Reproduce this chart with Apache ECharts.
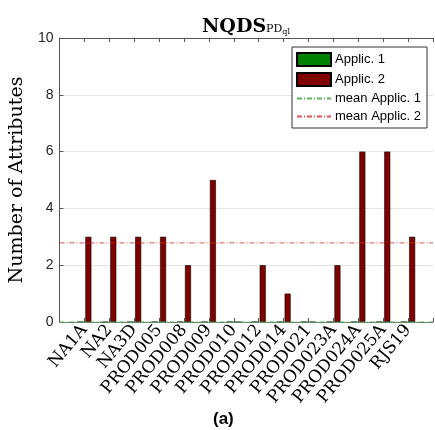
<!DOCTYPE html>
<html>
<head>
<meta charset="utf-8">
<script src="https://cdn.jsdelivr.net/npm/echarts@6/dist/echarts.min.js"></script>
<style>
  html, body { margin: 0; padding: 0; background: #fff; }
  #chart { width: 435px; height: 430px; }
</style>
</head>
<body>
<div id="chart"></div>
<script>
// Datasets, one value per category
const categories = ['NA1A', 'NA2', 'NA3D', 'PROD005', 'PROD008', 'PROD009', 'PROD010',
  'PROD012', 'PROD014', 'PROD021', 'PROD023A', 'PROD024A', 'PROD025A', 'RJS19'];
const applic1 = [0, 0, 0, 0, 0, 0, 0, 0, 0, 0, 0, 0, 0, 0];
const applic2 = [3, 3, 3, 3, 2, 5, 0, 2, 1, 0, 2, 6, 6, 3];
const yTicks = { min: 0, max: 10, step: 2 };

const mean = arr => arr.reduce((s, v) => s + v, 0) / arr.length;
const mean1 = mean(applic1);
const mean2 = mean(applic2);

// categories sit at positions 1..N on a 0..N+1 numeric axis
const xMax = categories.length + 1;
const toPoints = arr => arr.map((v, i) => [i + 1, v]);

const axisColor = '#555';
const serif = 'DejaVu Serif';
const sans = 'Liberation Sans';
const dashDot = [5, 2, 1, 2];

const chart = echarts.init(document.getElementById('chart'), null, { renderer: 'canvas' });

chart.setOption({
  animation: false,
  backgroundColor: '#fff',
  title: {
    text: '{a|NQDS}{b|PD}{c|ql}',
    left: 197,
    top: 10,
    textStyle: {
      rich: {
        a: { fontFamily: serif, fontWeight: 'bold', fontSize: 19, color: '#000', verticalAlign: 'bottom', lineHeight: 22 },
        b: { fontFamily: serif, fontWeight: 'normal', fontSize: 11, color: '#000', verticalAlign: 'bottom', lineHeight: 11, padding: [0, 0, 2, 0] },
        c: { fontFamily: serif, fontWeight: 'normal', fontSize: 8, color: '#000', verticalAlign: 'bottom', lineHeight: 8, padding: [0, 0, 1, 0] }
      }
    }
  },
  graphic: [{
    type: 'text',
    left: 213,
    top: 411,
    style: { text: '(a)', font: 'bold 17px "Liberation Sans"', fill: '#000' }
  }],
  legend: {
    orient: 'vertical',
    left: 292,
    top: 47,
    itemWidth: 34,
    itemHeight: 13,
    itemGap: 5,
    padding: [5, 6, 5, 4],
    borderColor: '#333',
    borderWidth: 1,
    borderRadius: 0,
    backgroundColor: '#fff',
    textStyle: { fontFamily: sans, fontSize: 13, color: '#000', padding: [0, 0, 0, -1] },
    data: [
      { name: 'Applic. 1', icon: 'rect' },
      { name: 'Applic. 2', icon: 'rect' },
      { name: 'mean Applic. 1', itemStyle: { opacity: 0 } },
      { name: 'mean Applic. 2', itemStyle: { opacity: 0 } }
    ]
  },
  grid: { left: 56, top: 38, right: -4, bottom: 108, containLabel: false },
  xAxis: [{
    type: 'value',
    position: 'bottom',
    min: 0,
    max: xMax,
    interval: 1,
    z: 4,
    axisLine: { show: true, lineStyle: { color: '#6f8a6f', width: 1 } },
    axisTick: { show: true, inside: true, length: 4, lineStyle: { color: axisColor } },
    splitLine: { show: false },
    axisLabel: {
      rotate: 50,
      margin: 5,
      fontFamily: serif,
      fontSize: 17,
      color: '#000',
      formatter: v => categories[v - 1] || ''
    }
  }, {
    type: 'value',
    position: 'top',
    min: 0,
    max: xMax,
    interval: 1,
    axisLine: { show: true, onZero: false, lineStyle: { color: axisColor, width: 1 } },
    axisTick: { show: true, inside: true, length: 4, lineStyle: { color: axisColor } },
    axisLabel: { show: false },
    splitLine: { show: false }
  }],
  yAxis: {
    type: 'value',
    min: yTicks.min,
    max: yTicks.max,
    interval: yTicks.step,
    name: 'Number of Attributes',
    nameLocation: 'middle',
    nameGap: 19,
    nameTextStyle: { fontFamily: serif, fontSize: 19, color: '#000' },
    axisLine: { show: true, lineStyle: { color: axisColor, width: 1 } },
    axisTick: { show: true, inside: true, length: 4, lineStyle: { color: axisColor } },
    splitLine: { show: true, lineStyle: { color: '#e3e3e3', width: 1 } },
    axisLabel: { fontFamily: sans, fontSize: 14, color: '#262626', margin: 6 }
  },
  series: [{
    name: 'Applic. 1',
    type: 'bar',
    data: toPoints(applic1),
    barWidth: 6,
    barGap: '33%',
    itemStyle: { color: '#008000', borderColor: '#000', borderWidth: 0.6 }
  }, {
    name: 'Applic. 2',
    type: 'bar',
    data: toPoints(applic2),
    barWidth: 6,
    barGap: '33%',
    itemStyle: { color: '#800000', borderColor: '#000', borderWidth: 0.6 }
  }, {
    name: 'mean Applic. 1',
    type: 'line',
    data: [[0, mean1], [xMax, mean1]],
    symbol: 'none',
    z: 5,
    itemStyle: { color: '#2ca02c' },
    lineStyle: { color: '#2ca02c', width: 1, type: dashDot, opacity: 0.8 }
  }, {
    name: 'mean Applic. 2',
    type: 'line',
    data: [[0, mean2], [xMax, mean2]],
    symbol: 'none',
    z: 3,
    itemStyle: { color: '#d62728' },
    lineStyle: { color: '#d62728', width: 1, type: dashDot, opacity: 0.8 }
  }]
});
</script>
</body>
</html>
